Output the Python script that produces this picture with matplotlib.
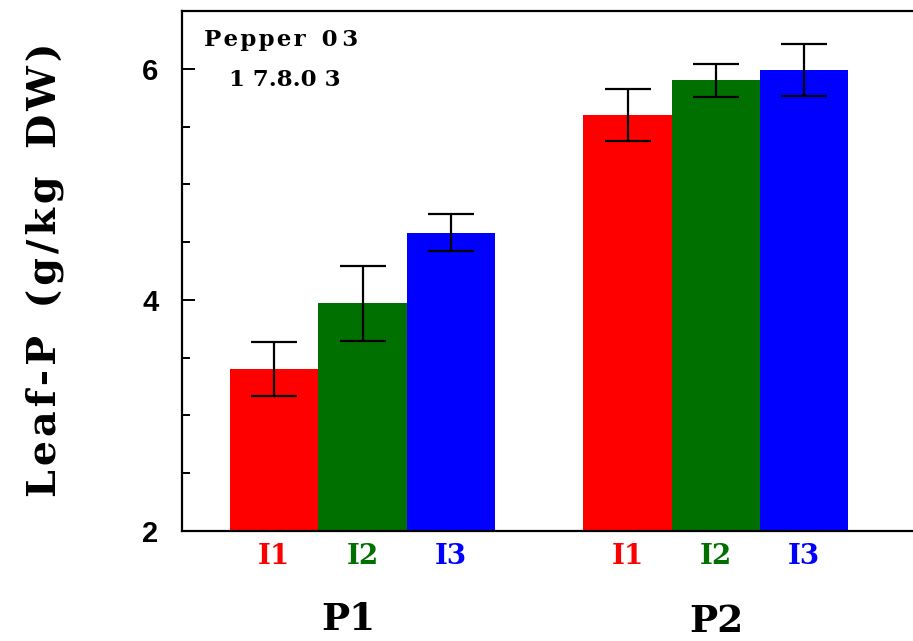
import matplotlib
matplotlib.use("Agg")
import matplotlib.pyplot as plt
import matplotlib.transforms as mtransforms
import numpy as np

groups = ["P1", "P2"]
treatments = ["I1", "I2", "I3"]
colors = ["#ff0000", "#007000", "#0000ff"]
values_P1 = [3.40, 3.97, 4.58]
errors_P1 = [0.236, 0.325, 0.16]
values_P2 = [5.60, 5.90, 5.99]
errors_P2 = [0.222, 0.14, 0.228]
yticks_major = [2, 4, 6]

fig = plt.figure(figsize=(9.13, 6.41), dpi=100)
ax = fig.add_axes([182/913, 1-531/641, 1-182/913 + 0.01, (531-11)/641])

serif = ["DejaVu Serif"]
values = [values_P1, values_P2]
errors = [errors_P1, errors_P2]
xpos_all = []
xlab_all = []
xcol_all = []
for g, (vals, errs) in enumerate(zip(values, errors)):
    for i, (v, e) in enumerate(zip(vals, errs)):
        x = g * 4 + i
        ax.bar(x, v - 2, bottom=2, width=1.0, color=colors[i], edgecolor="none", zorder=2)
        ax.errorbar(x, v, yerr=e, fmt="none", ecolor="black", elinewidth=1.6,
                    capsize=16.5, capthick=1.6, zorder=3)
        xpos_all.append(x)
        xlab_all.append(treatments[i])
        xcol_all.append(colors[i])

ax.set_xlim(-1.045, 7.335)
ax.set_ylim(2, 6.5)
ax.set_yticks(yticks_major)
ax.set_yticks(np.arange(2.5, 6.5, 0.5), minor=True)
ax.set_yticklabels([str(t) for t in yticks_major], fontsize=21, fontweight="bold",
                   family="Liberation Sans")
ax.tick_params(axis="y", which="major", direction="in", length=9, width=1.4, pad=17)
ax.tick_params(axis="y", which="minor", direction="in", length=6, width=1.4)

ax.set_xticks(xpos_all)
ax.set_xticklabels(xlab_all, fontsize=20, fontweight="bold", family=serif)
shift = mtransforms.ScaledTranslation(-9/100, 0, fig.dpi_scale_trans)
for lbl, c in zip(ax.get_xticklabels(), xcol_all):
    lbl.set_color(c)
    lbl.set_transform(lbl.get_transform() + shift)
ax.tick_params(axis="x", length=0, pad=9)

for s in ["left", "bottom", "top"]:
    ax.spines[s].set_linewidth(1.6)
ax.spines["right"].set_visible(False)

group_x = [0.84, 5.0]
group_y = [-0.171, -0.174]
for g, name in enumerate(groups):
    ax.text(group_x[g], group_y[g], name, transform=ax.get_xaxis_transform(),
            ha="center", va="center", fontsize=27, fontweight="bold", family=serif)

hs = "\u200a"
ylabel = hs.join("Leaf-P") + "  " + hs.join("(g/kg") + "  " + hs.join("DW)")
fig.text(45/913, 1-270/641, ylabel, rotation=90, ha="center", va="center",
         fontsize=28.5, fontweight="bold", family=serif)

ax.text(0.03, 0.944, hs.join("Pepper") + "  0\u20093", transform=ax.transAxes, fontsize=16.5,
        fontweight="bold", family=serif, va="center", ha="left")
ax.text(0.064, 0.867, "1 7.8.0 3", transform=ax.transAxes, fontsize=16.5, fontweight="bold",
        family=serif, va="center", ha="left")

fig.savefig("out.png", dpi=100)
